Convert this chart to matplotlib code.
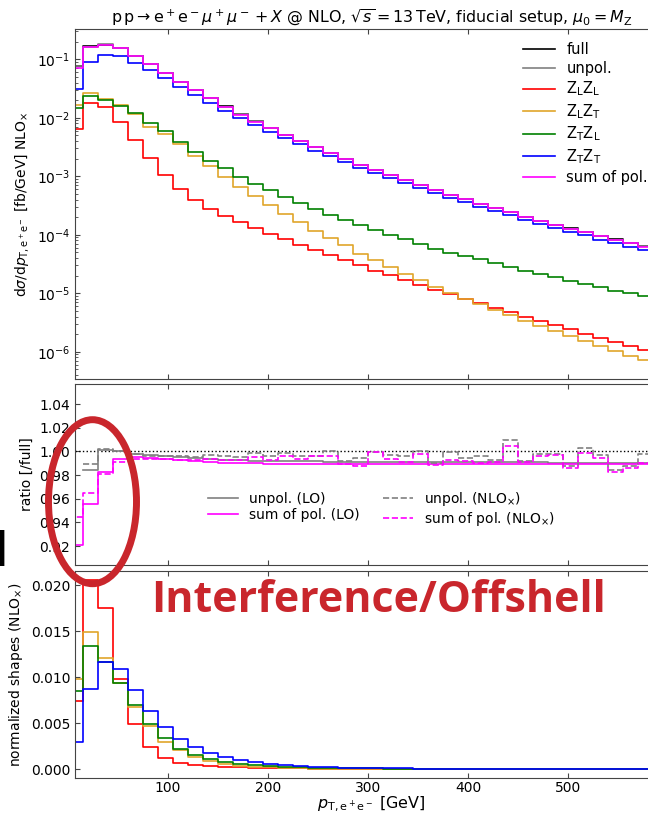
import numpy as np
import matplotlib
matplotlib.use('Agg')
import matplotlib.pyplot as plt
from matplotlib.patches import Ellipse

nan = np.nan

# 15 GeV bins in p_T(e+e-)
edges = np.arange(0, 600, 15)

# d sigma / d pT  [fb/GeV], NLO_x
xs_full = [0.0762, 0.1658, 0.1785, 0.1554, 0.1154, 0.0824, 0.0580, 0.0413, 0.0298, 0.0218,
           0.0156, 0.01145, 0.00866, 0.00669, 0.00515, 0.00396, 0.00313, 0.00247, 0.00198, 0.00158,
           0.00127, 0.00104, 0.000855, 0.000702, 0.000579, 0.000474, 0.000416, 0.000342, 0.000289, 0.000243,
           0.000203, 0.00017, 0.000146, 0.000128, 0.000111, 0.000095, 0.000083, 0.000072, 0.000063]
xs_unpol = [0.0755, 0.1641, 0.1788, 0.1555, 0.1153, 0.0822, 0.0578, 0.0411, 0.0297, 0.0217,
            0.0155, 0.01139, 0.00865, 0.00666, 0.00514, 0.00395, 0.00312, 0.00247, 0.00196, 0.00157,
            0.00127, 0.00104, 0.000851, 0.000702, 0.000573, 0.000474, 0.000414, 0.000341, 0.000287, 0.000245,
            0.000201, 0.00017, 0.000146, 0.000126, 0.000111, 0.000095, 0.000082, 0.000071, 0.000063]
xs_LL = [0.00638, 0.0182, 0.0155, 0.0086, 0.0042, 0.00209, 0.00106, 0.00061, 0.000387, 0.000275,
         0.000206, 0.000163, 0.000129, 0.000104, 0.000085, 0.000068, 0.000055, 0.0000445, 0.0000366, 0.00003,
         0.0000244, 0.0000203, 0.0000167, 0.0000137, 0.0000112, 0.0000098, 0.000008, 0.00000685, 0.00000563, 0.00000482,
         0.00000396, 0.00000342, 0.00000284, 0.0000024, 0.00000203, 0.00000173, 0.00000148, 0.00000125, 0.00000109]
xs_LT = [0.0166, 0.0263, 0.0210, 0.0166, 0.0115, 0.00708, 0.00525, 0.00352, 0.00221, 0.00147,
         0.00097, 0.000663, 0.000452, 0.000325, 0.000227, 0.000165, 0.000114, 0.000088, 0.000066, 0.0000475,
         0.0000365, 0.0000278, 0.0000214, 0.0000167, 0.0000129, 0.0000102, 0.0000081, 0.0000066, 0.00000507, 0.00000422,
         0.00000333, 0.00000273, 0.00000225, 0.00000185, 0.00000152, 0.00000125, 0.00000102, 0.00000086, 0.00000072]
xs_TL = [0.0146, 0.0234, 0.0202, 0.0160, 0.01197, 0.00828, 0.00582, 0.00389, 0.00264, 0.00185,
         0.00136, 0.00098, 0.000724, 0.00058, 0.000435, 0.000349, 0.000276, 0.00022, 0.000179, 0.000145,
         0.000119, 0.0001, 0.000085, 0.0000705, 0.000058, 0.0000495, 0.000044, 0.0000386, 0.000033, 0.0000282,
         0.0000244, 0.0000214, 0.0000188, 0.0000165, 0.0000145, 0.0000127, 0.0000111, 0.00001, 0.0000089]
xs_TT = [0.0308, 0.0889, 0.118, 0.114, 0.0877, 0.0656, 0.0473, 0.0336, 0.0243, 0.0177,
         0.0130, 0.00985, 0.00748, 0.00578, 0.00449, 0.00354, 0.00272, 0.00218, 0.00175, 0.00141,
         0.00115, 0.00093, 0.000754, 0.00062, 0.00051, 0.000425, 0.000357, 0.000298, 0.000255, 0.000214,
         0.000181, 0.000153, 0.000131, 0.000112, 0.000098, 0.000082, 0.000072, 0.000062, 0.000054]
xs_sum = [0.072, 0.160, 0.175, 0.154, 0.115, 0.082, 0.0577, 0.041, 0.0296, 0.0216,
          0.0155, 0.01135, 0.0086, 0.00664, 0.00511, 0.00393, 0.0031, 0.00245, 0.00196, 0.00157,
          0.00126, 0.00103, 0.000848, 0.000697, 0.000573, 0.00047, 0.000413, 0.00034, 0.000286, 0.000241,
          0.000201, 0.000169, 0.000145, 0.000127, 0.00011, 0.000094, 0.000082, 0.000071, 0.000062]

# ratios to the full result
r_unpol_lo = [nan, 0.9845, 1.0014, 1.0003, 0.9980, 0.9968, 0.9958, 0.9950, 0.9942, 0.9935,
              0.9930, 0.9926, 0.9922, 0.9920, 0.9918, 0.9916, 0.9915, 0.9914, 0.9913, 0.9912,
              0.9911, 0.9910, 0.9910, 0.9909, 0.9909, 0.9908, 0.9908, 0.9908, 0.9907, 0.9907,
              0.9907, 0.9907, 0.9906, 0.9906, 0.9906, 0.9906, 0.9906, 0.9906, 0.9906]
r_sum_lo = [0.9210, 0.9559, 0.9825, 0.9938, 0.9950, 0.9942, 0.9935, 0.9928, 0.9920, 0.9913,
            0.9906, 0.9902, 0.9899, 0.9897, 0.9896, 0.9895, 0.9894, 0.9893, 0.9893, 0.9892,
            0.9892, 0.9892, 0.9891, 0.9891, 0.9891, 0.9891, 0.9890, 0.9890, 0.9890, 0.9890,
            0.9890, 0.9890, 0.9890, 0.9890, 0.9890, 0.9890, 0.9890, 0.9890, 0.9890]
r_unpol_nlo = [nan, 0.9896, 1.0017, 1.0005, 0.9975, 0.9965, 0.9962, 0.9958, 0.9955, 0.9968,
               0.9958, 0.9950, 0.9985, 0.9960, 0.9990, 0.9965, 0.9962, 1.0000, 0.9916, 0.9944,
               0.9994, 0.9966, 0.9958, 1.0003, 0.9902, 0.9994, 0.9947, 0.9961, 0.9924, 1.0093,
               0.9918, 0.9975, 0.9975, 0.9873, 1.0031, 0.9972, 0.9845, 0.9873, 0.9975]
r_sum_nlo = [0.9446, 0.9648, 0.9806, 0.9910, 0.9940, 0.9936, 0.9932, 0.9928, 0.9924, 0.9940,
             0.9930, 0.9925, 0.9955, 0.9930, 0.9965, 0.9940, 0.9958, 0.9958, 0.9890, 0.9876,
             0.9992, 0.9938, 0.9913, 0.9975, 0.9882, 0.9930, 0.9918, 0.9904, 0.9907, 1.0042,
             0.9913, 0.9963, 0.9969, 0.9859, 0.9986, 0.9947, 0.9826, 0.9862, 0.9902]

# normalized shapes (NLO_x)
sh_LL = [0.00744, 0.02054, 0.01758, 0.00983, 0.00488, 0.00239, 0.0012, 0.00069, 0.00044, 0.00031,
         0.00023, 0.000185, 0.000148, 0.000118, 0.000097, 0.000077, 0.000063, 0.000051, 0.000042, 0.000034,
         0.000028, 0.000023, 0.000019, 0.000016, 0.000013, 0.000011, 0.0000091, 0.0000078, 0.0000064, 0.0000055,
         0.0000045, 0.0000039, 0.0000032, 0.0000027, 0.0000023, 0.000002, 0.0000017, 0.0000014, 0.0000012]
sh_LT = [0.00977, 0.01493, 0.01211, 0.00933, 0.00679, 0.00473, 0.0030, 0.00203, 0.00127, 0.00084,
         0.00055, 0.00038, 0.00026, 0.00019, 0.00013, 0.000094, 0.000065, 0.00005, 0.000038, 0.000027,
         0.000021, 0.000016, 0.000012, 0.0000095, 0.0000074, 0.0000058, 0.0000046, 0.0000038, 0.0000029, 0.0000024,
         0.0000019, 0.0000016, 0.0000013, 0.0000011, 0.0000009, 0.0000007, 0.0000006, 0.0000005, 0.0000004]
sh_TL = [0.00846, 0.01345, 0.01167, 0.0094, 0.00701, 0.00491, 0.00338, 0.00224, 0.00154, 0.00108,
         0.00078, 0.00056, 0.00042, 0.00034, 0.00025, 0.0002, 0.00016, 0.000128, 0.000104, 0.000084,
         0.000069, 0.000058, 0.000049, 0.000041, 0.000034, 0.000029, 0.000026, 0.000022, 0.000019, 0.000016,
         0.000014, 0.000012, 0.000011, 0.0000096, 0.0000084, 0.0000074, 0.0000065, 0.0000058, 0.0000052]
sh_TT = [0.00296, 0.00868, 0.01167, 0.01088, 0.0086, 0.00632, 0.00456, 0.00329, 0.00239, 0.00174,
         0.00127, 0.00097, 0.00073, 0.00057, 0.00044, 0.00035, 0.00027, 0.00021, 0.00017, 0.00014,
         0.00011, 0.00009, 0.000074, 0.000061, 0.00005, 0.000042, 0.000035, 0.000029, 0.000025, 0.000021,
         0.000018, 0.000015, 0.000013, 0.000011, 0.0000096, 0.000008, 0.000007, 0.0000061, 0.0000053]

c_full, c_unpol = 'black', 'grey'
c_LL, c_LT, c_TL, c_TT, c_sum = '#ff0000', '#e0a52a', '#008000', '#0000ff', '#ff00ff'
lw = 1.2


def hist(ax, vals, **kw):
    # draw binned values as a step outline
    y = np.append(np.asarray(vals, dtype=float), vals[-1])
    return ax.plot(edges, y, drawstyle='steps-post', lw=lw, **kw)[0]


def style(ax):
    ax.tick_params(which='both', direction='in', top=True, right=True, labelsize=10, color='#444444')
    for s in ax.spines.values():
        s.set_color('#444444')
    ax.set_xlim(7, 600)
    ax.set_xticks([100, 200, 300, 400, 500])


fig = plt.figure(figsize=(6.48, 8.16), dpi=100)
W, H = 648., 816.
ax1 = fig.add_axes([75 / W, 1 - 379 / H, 593 / W, 349.7 / H])
ax2 = fig.add_axes([75 / W, 1 - 565 / H, 593 / W, 181 / H])
ax3 = fig.add_axes([75 / W, 1 - 778.3 / H, 593 / W, 207.6 / H])

# cross sections
hist(ax1, xs_full, color=c_full, label='full')
hist(ax1, xs_unpol, color=c_unpol, label='unpol.')
hist(ax1, xs_LL, color=c_LL, label=r'$\mathrm{Z_LZ_L}$')
hist(ax1, xs_LT, color=c_LT, label=r'$\mathrm{Z_LZ_T}$')
hist(ax1, xs_TL, color=c_TL, label=r'$\mathrm{Z_TZ_L}$')
hist(ax1, xs_TT, color=c_TT, label=r'$\mathrm{Z_TZ_T}$')
hist(ax1, xs_sum, color=c_sum, label='sum of pol.')
ax1.set_yscale('log')
ax1.set_ylim(3.42e-7, 0.325)
style(ax1)
ax1.tick_params(labelbottom=False)
ax1.set_ylabel(r'$\mathrm{d}\sigma/\mathrm{d}p_{\mathrm{T,e^+e^-}}$ [fb/GeV] NLO$_{\times}$', fontsize=10)
ax1.set_title(r'$\mathrm{p\,p}\rightarrow\mathrm{e^+e^-}\mu^+\mu^-+X$ @ NLO, '
              r'$\sqrt{s}=13\,\mathrm{TeV}$, fiducial setup, $\mu_0=M_\mathrm{Z}$',
              fontsize=11.4, pad=5)
ax1.legend(loc='upper right', bbox_to_anchor=(661 / W, 1 - 29 / H), bbox_transform=fig.transFigure,
           frameon=False, fontsize=10.5, labelspacing=0.26, handlelength=2.2)

# ratios
ax2.axhline(1.0, color='black', ls=':', lw=1)
h1 = hist(ax2, r_unpol_lo, color=c_unpol, label='unpol. (LO)')
h2 = hist(ax2, r_sum_lo, color=c_sum, label='sum of pol. (LO)')
h3 = hist(ax2, r_unpol_nlo, color=c_unpol, ls='--', label=r'unpol. (NLO$_{\times}$)')
h4 = hist(ax2, r_sum_nlo, color=c_sum, ls='--', label=r'sum of pol. (NLO$_{\times}$)')
ax2.set_ylim(0.904, 1.057)
ax2.set_yticks([0.92, 0.94, 0.96, 0.98, 1.00, 1.02, 1.04])
style(ax2)
ax2.tick_params(labelbottom=False)
ax2.set_ylabel('ratio [/full]', fontsize=10)
ax2.legend(handles=[h1, h2, h3, h4], ncol=2, loc='upper left',
           bbox_to_anchor=(195 / W, 1 - 477 / H), bbox_transform=fig.transFigure,
           frameon=False, fontsize=10, labelspacing=0.2, handlelength=2.2, columnspacing=1.65)

# normalized shapes
hist(ax3, sh_LL, color=c_LL)
hist(ax3, sh_LT, color=c_LT)
hist(ax3, sh_TL, color=c_TL)
hist(ax3, sh_TT, color=c_TT)
ax3.set_ylim(-0.001, 0.0216)
ax3.set_yticks([0.0, 0.005, 0.010, 0.015, 0.020])
ax3.yaxis.set_major_formatter(matplotlib.ticker.FormatStrFormatter('%.3f'))
style(ax3)
ax3.tick_params(axis='x', pad=2)
ax3.set_ylabel(r'normalized shapes (NLO$_{\times}$)', fontsize=10)
ax3.set_xlabel(r'$p_{\mathrm{T,e^+e^-}}$ [GeV]', fontsize=11.5, labelpad=-0.5)

# slide annotations
fig.patches.append(Ellipse((92.5 / W, 1 - 501.7 / H), 88 / W, 164 / H, transform=fig.transFigure,
                           fill=False, ec='#c9262c', lw=5))
fig.text(151 / W, 1 - 611.7 / H, 'Interference/Offshell', fontsize=31, fontweight='bold',
         color='#c9262c', family='Open Sans', va='baseline')
fig.text(8 / W, 1 - 566 / H, 'd', fontsize=33, fontweight='bold', color='black',
         family='Open Sans', ha='right', va='baseline')

fig.savefig('out.png', dpi=100)
